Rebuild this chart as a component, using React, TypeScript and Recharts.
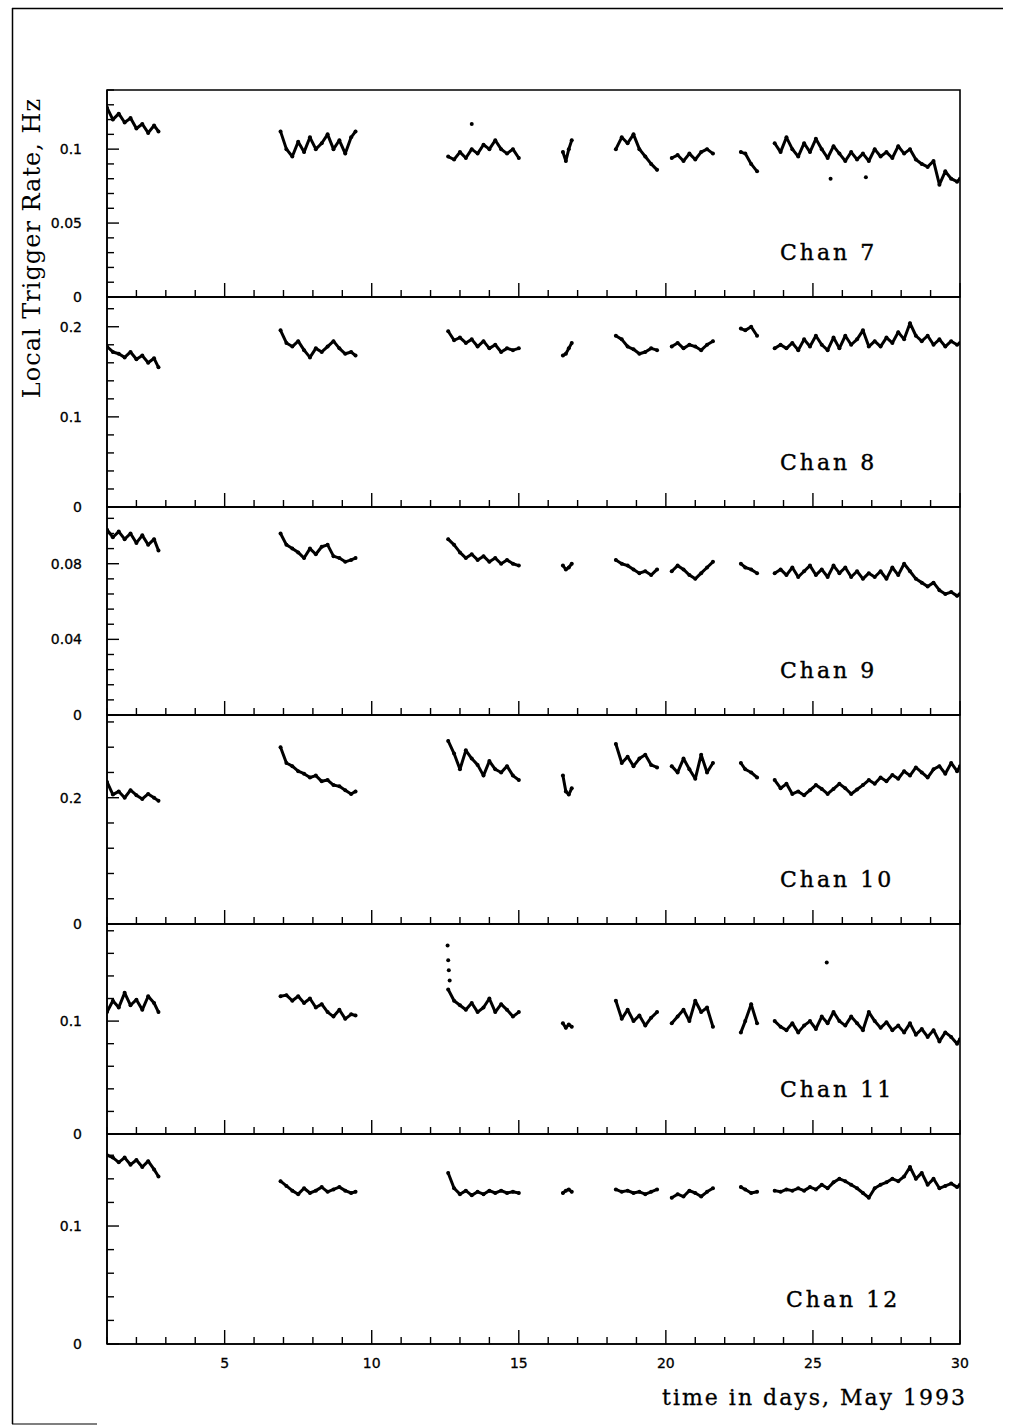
import React from 'react'
import { ComposedChart, Line, Scatter, XAxis, YAxis, ReferenceArea } from 'recharts'

// sampling times (days in May 1993); each gap entry carries null rates to break the trace
const days = [
  1.0, 1.2, 1.4, 1.6, 1.8, 2.0, 2.2, 2.4, 2.6, 2.75,
  4.8,
  6.9, 7.1, 7.3, 7.5, 7.7, 7.9, 8.1, 8.3, 8.5, 8.7, 8.9, 9.1, 9.3, 9.45,
  11.0,
  12.6, 12.8, 13.0, 13.2, 13.4, 13.6, 13.8, 14.0, 14.2, 14.4, 14.6, 14.8, 15.0,
  15.8,
  16.5, 16.6, 16.7, 16.8,
  17.6,
  18.3, 18.5, 18.7, 18.9, 19.1, 19.3, 19.5, 19.7,
  19.95,
  20.2, 20.4, 20.6, 20.8, 21.0, 21.2, 21.4, 21.6,
  22.1,
  22.55, 22.7, 22.9, 23.1,
  23.4,
  23.7, 23.9, 24.1, 24.3, 24.5, 24.7, 24.9, 25.1, 25.3, 25.5, 25.7, 25.9, 26.1, 26.3, 26.5, 26.7,
  26.9, 27.1, 27.3, 27.5, 27.7, 27.9, 28.1, 28.3, 28.5, 28.7, 28.9, 29.1, 29.3, 29.5, 29.7, 29.9, 30.0,
]

const chan7 = [
  0.128, 0.12, 0.124, 0.118, 0.121, 0.114, 0.117, 0.111, 0.116, 0.112,
  null,
  0.112, 0.1, 0.095, 0.105, 0.098, 0.108, 0.1, 0.104, 0.11, 0.1, 0.106, 0.097, 0.108, 0.112,
  null,
  0.095, 0.093, 0.098, 0.094, 0.1, 0.097, 0.103, 0.1, 0.106, 0.1, 0.097, 0.1, 0.094,
  null,
  0.098, 0.092, 0.1, 0.106,
  null,
  0.1, 0.108, 0.104, 0.11, 0.1, 0.095, 0.09, 0.086,
  null,
  0.094, 0.096, 0.092, 0.097, 0.093, 0.098, 0.1, 0.097,
  null,
  0.098, 0.097, 0.09, 0.085,
  null,
  0.104, 0.098, 0.108, 0.1, 0.095, 0.104, 0.098, 0.107, 0.1, 0.094, 0.102, 0.097, 0.092, 0.098, 0.093, 0.097,
  0.092, 0.1, 0.095, 0.098, 0.094, 0.102, 0.097, 0.1, 0.093, 0.09, 0.088, 0.092, 0.076, 0.085, 0.08, 0.078, 0.08,
]

const chan8 = [
  0.178, 0.172, 0.17, 0.166, 0.172, 0.164, 0.168, 0.16, 0.165, 0.155,
  null,
  0.196, 0.182, 0.178, 0.184, 0.174, 0.166, 0.176, 0.172, 0.178, 0.184, 0.176, 0.17, 0.172, 0.168,
  null,
  0.195, 0.185, 0.188, 0.182, 0.186, 0.178, 0.184, 0.176, 0.18, 0.172, 0.176, 0.174, 0.176,
  null,
  0.168, 0.17, 0.176, 0.182,
  null,
  0.19, 0.186, 0.178, 0.175, 0.17, 0.172, 0.176, 0.174,
  null,
  0.178, 0.182, 0.176, 0.18, 0.178, 0.174, 0.18, 0.184,
  null,
  0.198, 0.196, 0.2, 0.19,
  null,
  0.176, 0.18, 0.176, 0.182, 0.174, 0.186, 0.178, 0.19, 0.18, 0.174, 0.188, 0.176, 0.19, 0.18, 0.186, 0.196,
  0.178, 0.184, 0.178, 0.188, 0.182, 0.194, 0.186, 0.204, 0.19, 0.184, 0.19, 0.18, 0.186, 0.178, 0.184, 0.18, 0.182,
]

const chan9 = [
  0.098, 0.094, 0.097, 0.093, 0.096, 0.091, 0.095, 0.09, 0.093, 0.087,
  null,
  0.096, 0.09, 0.088, 0.086, 0.083, 0.088, 0.085, 0.089, 0.09, 0.084, 0.083, 0.081, 0.082, 0.083,
  null,
  0.093, 0.09, 0.086, 0.083, 0.085, 0.082, 0.084, 0.081, 0.083, 0.08, 0.082, 0.08, 0.079,
  null,
  0.079, 0.077, 0.078, 0.08,
  null,
  0.082, 0.08, 0.079, 0.077, 0.075, 0.076, 0.074, 0.077,
  null,
  0.076, 0.079, 0.077, 0.074, 0.072, 0.075, 0.078, 0.081,
  null,
  0.08, 0.078, 0.077, 0.075,
  null,
  0.075, 0.077, 0.074, 0.078, 0.073, 0.076, 0.079, 0.074, 0.077, 0.073, 0.079, 0.075, 0.078, 0.073, 0.076, 0.072,
  0.075, 0.073, 0.076, 0.072, 0.078, 0.074, 0.08, 0.076, 0.072, 0.07, 0.068, 0.07, 0.066, 0.064, 0.065, 0.063, 0.064,
]

const chan10 = [
  0.225, 0.205, 0.21, 0.2, 0.212, 0.204, 0.198, 0.206, 0.2, 0.195,
  null,
  0.28, 0.255, 0.25, 0.242, 0.238, 0.232, 0.235, 0.226, 0.228, 0.22, 0.218, 0.212, 0.206, 0.21,
  null,
  0.29, 0.27, 0.245, 0.275, 0.262, 0.252, 0.235, 0.258, 0.245, 0.24, 0.25, 0.235, 0.228,
  null,
  0.235, 0.21, 0.205, 0.215,
  null,
  0.285, 0.255, 0.265, 0.25, 0.262, 0.268, 0.252, 0.248,
  null,
  0.25, 0.24, 0.262, 0.245, 0.23, 0.268, 0.24, 0.255,
  null,
  0.255, 0.245, 0.24, 0.232,
  null,
  0.228, 0.215, 0.222, 0.206, 0.21, 0.204, 0.212, 0.22, 0.214, 0.206, 0.214, 0.222, 0.215, 0.206, 0.213, 0.22,
  0.228, 0.222, 0.232, 0.226, 0.236, 0.23, 0.242, 0.235, 0.248, 0.24, 0.232, 0.245, 0.25, 0.238, 0.255, 0.242, 0.25,
]

const chan11 = [
  0.108, 0.118, 0.112, 0.125, 0.114, 0.119, 0.11, 0.122, 0.116, 0.108,
  null,
  0.122, 0.123, 0.118, 0.122, 0.116, 0.12, 0.112, 0.115, 0.108, 0.104, 0.11, 0.102, 0.106, 0.105,
  null,
  0.128, 0.118, 0.114, 0.11, 0.116, 0.108, 0.112, 0.12, 0.108, 0.115, 0.11, 0.104, 0.108,
  null,
  0.098, 0.094, 0.097, 0.095,
  null,
  0.118, 0.102, 0.11, 0.1, 0.105, 0.096, 0.103, 0.108,
  null,
  0.098, 0.104, 0.11, 0.1, 0.118, 0.108, 0.112, 0.095,
  null,
  0.09, 0.1, 0.115, 0.098,
  null,
  0.1, 0.095, 0.092, 0.098, 0.09, 0.096, 0.1, 0.093, 0.104, 0.098, 0.108, 0.1, 0.096, 0.104, 0.098, 0.092,
  0.108, 0.1, 0.094, 0.099, 0.092, 0.096, 0.09, 0.098, 0.088, 0.093, 0.086, 0.092, 0.082, 0.09, 0.086, 0.08, 0.084,
]

const chan12 = [
  0.16, 0.158, 0.154, 0.158, 0.152, 0.156, 0.15, 0.155, 0.148, 0.142,
  null,
  0.138, 0.134, 0.13, 0.127, 0.132, 0.128, 0.13, 0.133, 0.129, 0.131, 0.133, 0.13, 0.128, 0.129,
  null,
  0.145, 0.132, 0.127, 0.13, 0.126, 0.129, 0.127, 0.13, 0.128, 0.13, 0.128, 0.129, 0.128,
  null,
  0.128, 0.13, 0.131, 0.129,
  null,
  0.131, 0.129, 0.13, 0.128, 0.129, 0.127, 0.129, 0.131,
  null,
  0.124, 0.127, 0.125, 0.13, 0.128, 0.125, 0.129, 0.132,
  null,
  0.133, 0.131, 0.128, 0.129,
  null,
  0.13, 0.129, 0.131, 0.13, 0.132, 0.13, 0.133, 0.131, 0.135, 0.132, 0.137, 0.14, 0.138, 0.135, 0.132, 0.128,
  0.124, 0.132, 0.135, 0.137, 0.14, 0.138, 0.142, 0.15, 0.14, 0.145, 0.135, 0.14, 0.132, 0.134, 0.136, 0.133, 0.135,
]

// isolated points away from the main traces
const chan7Strays = [
  { day: 13.4, rate: 0.117 },
  { day: 25.6, rate: 0.08 },
  { day: 26.8, rate: 0.081 },
]
const chan11Strays = [
  { day: 12.58, rate: 0.167 },
  { day: 12.6, rate: 0.154 },
  { day: 12.62, rate: 0.145 },
  { day: 12.65, rate: 0.136 },
  { day: 25.47, rate: 0.152 },
]

const dayTicks = [
  1, 2, 3, 4, 5, 6, 7, 8, 9, 10, 11, 12, 13, 14, 15,
  16, 17, 18, 19, 20, 21, 22, 23, 24, 25, 26, 27, 28, 29, 30,
]
const dayLabels = [5, 10, 15, 20, 25, 30]

const ticks7 = [0, 0.01, 0.02, 0.03, 0.04, 0.05, 0.06, 0.07, 0.08, 0.09, 0.1, 0.11, 0.12, 0.13, 0.14]
const labels7 = [0, 0.05, 0.1]
const ticks8 = [0, 0.02, 0.04, 0.06, 0.08, 0.1, 0.12, 0.14, 0.16, 0.18, 0.2, 0.22]
const labels8 = [0, 0.1, 0.2]
const ticks9 = [0, 0.008, 0.016, 0.024, 0.032, 0.04, 0.048, 0.056, 0.064, 0.072, 0.08, 0.088, 0.096, 0.104]
const labels9 = [0, 0.04, 0.08]
const ticks10 = [0, 0.04, 0.08, 0.12, 0.16, 0.2, 0.24, 0.28, 0.32]
const labels10 = [0, 0.2]
const ticks11 = [0, 0.02, 0.04, 0.06, 0.08, 0.1, 0.12, 0.14, 0.16, 0.18]
const labels11 = [0, 0.1]
const ticks12 = [0, 0.02, 0.04, 0.06, 0.08, 0.1, 0.12, 0.14, 0.16]
const labels12 = [0, 0.1]

const SERIF = '"DejaVu Serif", "Liberation Serif", serif'
const SANS = '"DejaVu Sans", "Liberation Sans", sans-serif'

const PAGE_W = 1013
const PAGE_H = 1426
const PLOT_LEFT = 107
const PLOT_RIGHT = 960
const panelEdges = [90, 297, 507, 715, 924, 1134, 1344]

const panels = [
  { name: 'Chan 7', values: chan7, strays: chan7Strays, yMax: 0.14, yTicks: ticks7, yLabels: labels7 },
  { name: 'Chan 8', values: chan8, strays: [], yMax: 0.233, yTicks: ticks8, yLabels: labels8 },
  { name: 'Chan 9', values: chan9, strays: [], yMax: 0.11, yTicks: ticks9, yLabels: labels9 },
  { name: 'Chan 10', values: chan10, strays: [], yMax: 0.331, yTicks: ticks10, yLabels: labels10 },
  { name: 'Chan 11', values: chan11, strays: chan11Strays, yMax: 0.186, yTicks: ticks11, yLabels: labels11 },
  { name: 'Chan 12', values: chan12, strays: [], yMax: 0.178, yTicks: ticks12, yLabels: labels12 },
]

function rowsFor(values: (number | null)[]) {
  return days.map((day, i) => ({ day, rate: values[i] }))
}

function DayTick({ x, y, payload, showLabel }: any) {
  const v = payload.value
  const major = dayLabels.includes(v)
  return (
    <g>
      <line x1={x} y1={y} x2={x} y2={y - (major ? 14 : 7)} stroke="#000" strokeWidth={1.4} />
      {showLabel && major && (
        <text x={x} y={y + 19} textAnchor="middle" dominantBaseline="central" fontFamily={SANS} fontSize={14} stroke="#000" strokeWidth={0.3} fill="#000">
          {v}
        </text>
      )}
    </g>
  )
}

function RateTick({ x, y, payload, labels }: any) {
  const v = payload.value
  const major = labels.some((l: number) => Math.abs(l - v) < 1e-9)
  return (
    <g>
      <line x1={x} y1={y} x2={x + (major ? 12 : 7)} y2={y} stroke="#000" strokeWidth={1.4} />
      {major && (
        <text x={x - 25} y={y} textAnchor="end" dominantBaseline="central" fontFamily={SANS} fontSize={14} stroke="#000" strokeWidth={0.3} fill="#000">
          {String(v)}
        </text>
      )}
    </g>
  )
}

const strayDot = (p: any) => <circle cx={p.cx} cy={p.cy} r={2} fill="#000" />

function Panel({ idx, cfg, last }: any) {
  const top = panelEdges[idx]
  const h = panelEdges[idx + 1] - top
  const mTop = 10
  const mBottom = 40
  // axes get a 1px band: zero-sized axes are not drawn at all
  return (
    <div style={{ position: 'absolute', left: 0, top: top - mTop }}>
      <ComposedChart
        width={PAGE_W}
        height={h + mTop + mBottom}
        data={rowsFor(cfg.values)}
        margin={{ top: mTop, right: PAGE_W - PLOT_RIGHT, bottom: mBottom - 1, left: PLOT_LEFT - 1 }}
      >
        <XAxis
          dataKey="day"
          type="number"
          domain={[1, 30]}
          ticks={dayTicks}
          interval={0}
          height={1}
          tickSize={0}
          tickMargin={0}
          tickLine={false}
          axisLine={{ stroke: '#000', strokeWidth: 1.6 }}
          tick={(p: any) => <DayTick {...p} showLabel={last} />}
          allowDataOverflow
        />
        <YAxis
          type="number"
          domain={[0, cfg.yMax]}
          ticks={cfg.yTicks}
          interval={0}
          width={1}
          tickSize={0}
          tickMargin={0}
          tickLine={false}
          axisLine={{ stroke: '#000', strokeWidth: 1.6 }}
          tick={(p: any) => <RateTick {...p} labels={cfg.yLabels} />}
          allowDataOverflow
        />
        <ReferenceArea x1={1} x2={30} y1={0} y2={cfg.yMax} fill="none" stroke="#000" strokeWidth={1.6} />
        <Line
          type="linear"
          dataKey="rate"
          stroke="#000"
          strokeWidth={3}
          strokeLinejoin="round"
          strokeLinecap="round"
          dot={{ r: 2, fill: '#000', stroke: 'none' }}
          connectNulls={false}
          isAnimationActive={false}
        />
        {cfg.strays.length > 0 && (
          <Scatter data={cfg.strays} dataKey="rate" shape={strayDot} isAnimationActive={false} />
        )}
      </ComposedChart>
    </div>
  )
}

export default function App() {
  return (
    <div style={{ position: 'absolute', left: 0, top: 0, width: PAGE_W, height: PAGE_H, background: '#fff' }}>
      {panels.map((cfg, i) => (
        <Panel key={cfg.name} idx={i} cfg={cfg} last={i === panels.length - 1} />
      ))}
      <svg width={PAGE_W} height={PAGE_H} style={{ position: 'absolute', left: 0, top: 0, pointerEvents: 'none' }}>
        <line x1={12.5} y1={8} x2={12.5} y2={1424} stroke="#000" strokeWidth={1.5} />
        <line x1={12} y1={8.5} x2={1003} y2={8.5} stroke="#000" strokeWidth={1.5} />
        <line x1={12} y1={1424} x2={97} y2={1424} stroke="#000" strokeWidth={1.2} />
        <text
          x={32}
          y={248}
          transform="rotate(-90 32 248)"
          textAnchor="middle"
          dominantBaseline="central"
          fontFamily={SERIF}
          fontSize={24}
          letterSpacing={1}
          fill="#000"
        >
          Local Trigger Rate, Hz
        </text>
        {panels.map((cfg, i) => (
          <text
            key={cfg.name}
            x={i === 5 ? 786 : 780}
            y={panelEdges[i + 1] - 45}
            dominantBaseline="central"
            fontFamily={SERIF}
            fontSize={22}
            letterSpacing={3}
            stroke="#000"
            strokeWidth={0.4}
            fill="#000"
          >
            {cfg.name}
          </text>
        ))}
        <text
          x={967}
          y={1397}
          textAnchor="end"
          dominantBaseline="central"
          fontFamily={SERIF}
          fontSize={22}
          letterSpacing={2}
          stroke="#000"
          strokeWidth={0.3}
          fill="#000"
        >
          time in days, May 1993
        </text>
      </svg>
    </div>
  )
}
